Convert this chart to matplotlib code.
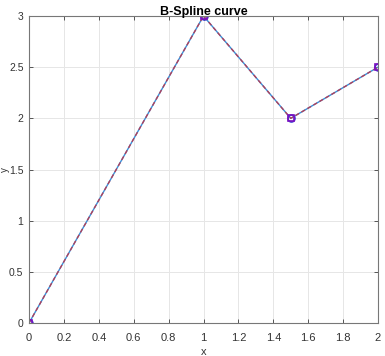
import matplotlib
matplotlib.use("Agg")
import matplotlib.pyplot as plt

x_pts = [0, 1, 1.5, 2]
y_pts = [0, 3, 2, 2.5]
x_ticks = [0, 0.2, 0.4, 0.6, 0.8, 1, 1.2, 1.4, 1.6, 1.8, 2]
x_tick_labels = ["0", "0.2", "0.4", "0.6", "0.8", "1", "1.2", "1.4", "1.6", "1.8", "2"]
y_ticks = [0, 0.5, 1, 1.5, 2, 2.5, 3]
y_tick_labels = ["0", "0.5", "1", "1.5", "2", "2.5", "3"]

plt.rcParams['font.family'] = ['Liberation Sans', 'DejaVu Sans']
fig = plt.figure(figsize=(3.85, 3.56), dpi=100)
ax = fig.add_axes([29/385, 1-323/356, (378-29)/385, (323-16)/356])

ax.plot(x_pts, y_pts, color='#3a8fd8', lw=1.0, marker='o', ms=5, mfc='none', mec='#3a3ad0', mew=1.2)
ax.plot(x_pts, y_pts, color='#b0405a', lw=1.0, ls=(0, (3, 2)), marker='s', ms=5, mfc='none', mec='#7a10c0', mew=1.2)

ax.set_xlim(0, 2)
ax.set_ylim(0, 3)
ax.set_xticks(x_ticks)
ax.set_xticklabels(x_tick_labels)
ax.set_yticks(y_ticks)
ax.set_yticklabels(y_tick_labels)
ax.grid(True, color='#e6e6e6', lw=0.7)
ax.set_axisbelow(True)
ax.tick_params(direction='in', length=3, width=0.7, colors='#555555', labelcolor='#333333',
               labelsize=8, top=True, right=True, pad=4)
ax.tick_params(axis='y', labelsize=7.5, pad=4)
ax.tick_params(axis='x', pad=7)
for s in ax.spines.values():
    s.set_color('#777777')
    s.set_linewidth(0.8)
ax.set_title('B-Spline curve', fontsize=9, fontweight='bold', pad=1)
ax.set_xlabel('x', fontsize=8, color='#333333', labelpad=3)
fig.text(4.5/385, 0.5 * (1 - 323/356) + 0.5 * (1 - 16/356), 'y', rotation=90,
         ha='center', va='center', fontsize=7, color='#333333')

fig.savefig('out.png', dpi=100)
